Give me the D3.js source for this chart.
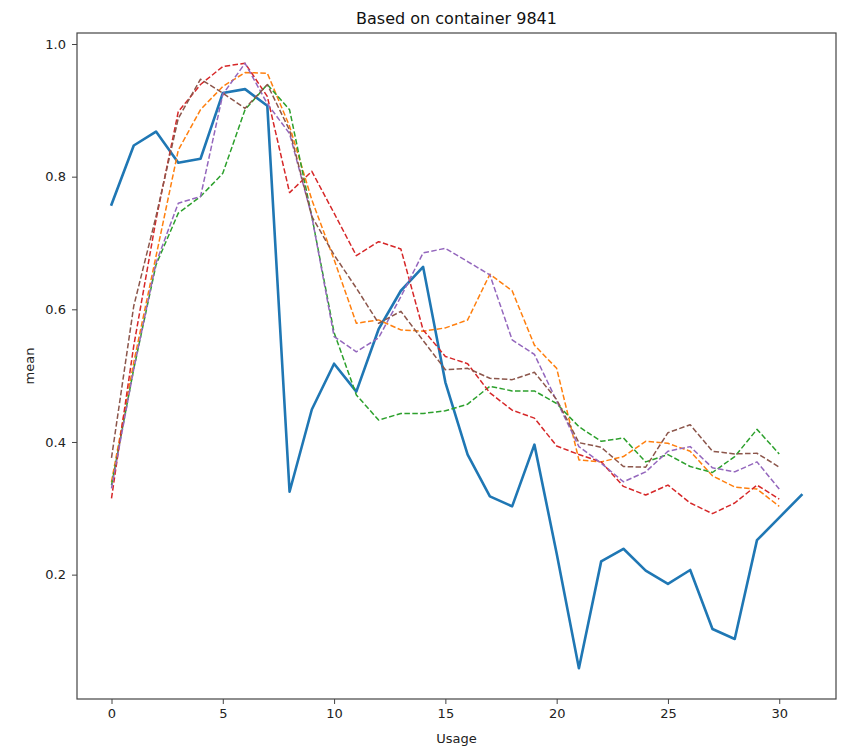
<!DOCTYPE html>
<html><head><meta charset="utf-8">
<script src="https://cdn.jsdelivr.net/npm/d3@7"></script>
<style>body{margin:0;background:#fff;} svg{display:block;} text{font-family:"DejaVu Sans",sans-serif;}</style>
</head><body>
<svg id="c" width="861" height="748"></svg>
<script>
const title = "Based on container 9841";
const xLabel = "Usage";
const yLabel = "mean";
const xTicks = [0,5,10,15,20,25,30];
const yTicks = [0.2,0.4,0.6,0.8,1.0];

const actual = [0.758,0.847,0.868,0.821,0.827,0.926,0.932,0.907,0.325,0.449,0.518,0.476,0.570,0.628,0.664,0.490,0.381,0.318,0.303,0.396,0.232,0.059,0.220,0.239,0.206,0.186,0.207,0.118,0.103,0.252,0.286,0.320];
const predOrange = [0.340,0.520,0.680,0.840,0.901,0.936,0.957,0.956,0.876,0.765,0.675,0.579,0.584,0.569,0.567,0.572,0.584,0.653,0.628,0.546,0.511,0.373,0.370,0.378,0.401,0.398,0.386,0.349,0.332,0.329,0.303];
const predGreen = [0.335,0.510,0.667,0.745,0.770,0.805,0.901,0.939,0.901,0.740,0.565,0.471,0.433,0.443,0.443,0.447,0.457,0.484,0.477,0.477,0.458,0.423,0.401,0.406,0.370,0.381,0.363,0.354,0.378,0.419,0.382];
const predRed = [0.315,0.545,0.735,0.898,0.939,0.966,0.971,0.921,0.776,0.808,0.745,0.681,0.702,0.691,0.569,0.529,0.518,0.474,0.448,0.436,0.394,0.381,0.370,0.333,0.320,0.335,0.308,0.292,0.308,0.335,0.314];
const predPurple = [0.330,0.510,0.670,0.760,0.770,0.924,0.971,0.910,0.865,0.740,0.559,0.536,0.557,0.619,0.685,0.692,0.672,0.652,0.554,0.532,0.462,0.393,0.368,0.340,0.355,0.386,0.393,0.361,0.355,0.370,0.329];
const predBrown = [0.376,0.605,0.740,0.888,0.947,0.926,0.903,0.939,0.870,0.740,0.682,0.632,0.579,0.597,0.553,0.509,0.511,0.496,0.494,0.505,0.464,0.399,0.392,0.363,0.362,0.414,0.426,0.386,0.382,0.383,0.362];

const dashedSeries = [
  {values: predOrange, color: "#ff7f0e"},
  {values: predGreen, color: "#2ca02c"},
  {values: predRed, color: "#d62728"},
  {values: predPurple, color: "#9467bd"},
  {values: predBrown, color: "#8c564b"}
];

const svg = d3.select("#c");
const L = 77, R = 836, T = 33, B = 699;
const x = d3.scaleLinear().domain([-1.55, 32.55]).range([L, R]);
const y = d3.scaleLinear().domain([0.0125, 1.0166]).range([B, T]);

const line = d3.line().x((d,i)=>x(i)).y(d=>y(d));

const plot = svg.append("g");
plot.append("path").datum(actual)
  .attr("d", line).attr("fill","none").attr("stroke","#1f77b4")
  .attr("stroke-width",2.6).attr("stroke-linejoin","round").attr("stroke-linecap","square");

dashedSeries.forEach(s => {
  plot.append("path").datum(s.values)
    .attr("d", line).attr("fill","none").attr("stroke", s.color)
    .attr("stroke-width",1.5).attr("stroke-dasharray","5.5,2.4").attr("stroke-linejoin","round");
});

// frame
svg.append("rect").attr("x",L).attr("y",T).attr("width",R-L).attr("height",B-T)
  .attr("fill","none").attr("stroke","#444").attr("stroke-width",1.2);

const xAxis = d3.axisBottom(x).tickValues(xTicks).tickSize(5).tickPadding(5).tickFormat(d3.format("d"));
const gx = svg.append("g").attr("transform",`translate(0,${B})`).call(xAxis);
gx.select(".domain").remove();
gx.selectAll("text").attr("font-size",13).attr("fill","#222").style("font-family","DejaVu Sans");
gx.selectAll("line").attr("stroke","#444");

const yAxis = d3.axisLeft(y).tickValues(yTicks).tickSize(5).tickPadding(6).tickFormat(d3.format(".1f"));
const gy = svg.append("g").attr("transform",`translate(${L},0)`).call(yAxis);
gy.select(".domain").remove();
gy.selectAll("text").attr("font-size",13).attr("fill","#222").style("font-family","DejaVu Sans");
gy.selectAll("line").attr("stroke","#444");

svg.append("text").attr("x",(L+R)/2).attr("y",24).attr("text-anchor","middle")
  .attr("font-size",16).attr("fill","#111").text(title);
svg.append("text").attr("x",(L+R)/2).attr("y",743).attr("text-anchor","middle")
  .attr("font-size",13).attr("fill","#222").text(xLabel);
svg.append("text").attr("transform",`translate(34,${(T+B)/2}) rotate(-90)`).attr("text-anchor","middle")
  .attr("font-size",13).attr("fill","#222").text(yLabel);
</script>
</body></html>
